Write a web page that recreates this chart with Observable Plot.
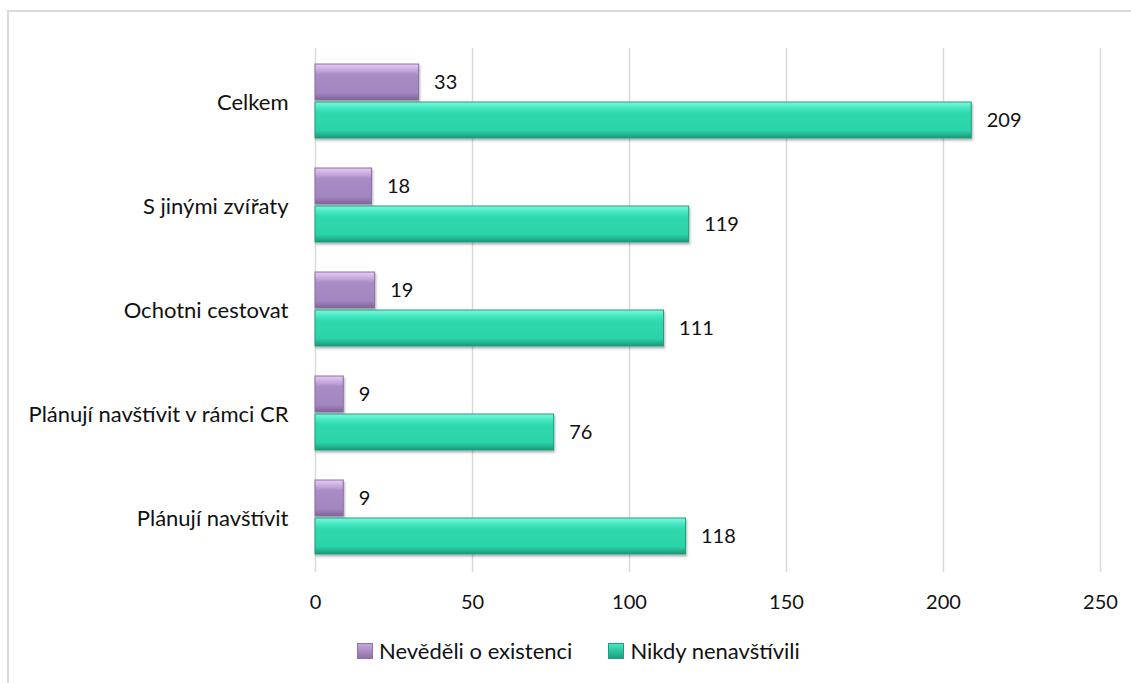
<!DOCTYPE html>
<html><head><meta charset="utf-8">
<script src="https://cdn.jsdelivr.net/npm/d3@7"></script>
<script src="https://cdn.jsdelivr.net/npm/@observablehq/plot@0.6"></script>
<style>
body{margin:0;background:#fff;font-family:Lato,"Noto Sans",sans-serif;}
#frame{position:absolute;left:7px;top:10px;width:1300px;height:800px;border-left:2px solid #d9d9d9;border-top:2px solid #d9d9d9;}
#chart{position:absolute;left:0;top:0;}
#legend{position:absolute;left:357px;top:637px;display:flex;gap:36px;font-size:22px;color:#111;}
#legend span.item{display:flex;align-items:center;}
#legend i{display:inline-block;width:14px;height:14px;margin-right:6px;}
</style></head>
<body>
<div id="frame"></div>
<div id="chart"></div>
<div id="legend"></div>
<script>
const categories = ["Celkem", "S jinými zvířaty", "Ochotni cestovat", "Plánují navštívit v rámci CR", "Plánují navštívit"];
const seriesNames = ["Nevěděli o existenci", "Nikdy nenavštívili"];
const nevedeli = [33, 18, 19, 9, 9];
const nikdy = [209, 119, 111, 76, 118];
const xTicks = [0, 50, 100, 150, 200, 250];

const purple = categories.map((c, i) => ({cat: c, v: nevedeli[i]}));
const teal = categories.map((c, i) => ({cat: c, v: nikdy[i]}));

const font = "Lato, 'Noto Sans', sans-serif";
const plot = Plot.plot({
  width: 1131, height: 620,
  marginLeft: 315, marginRight: 31, marginTop: 48, marginBottom: 48,
  style: {fontFamily: font, fontSize: "22px", color: "#111", background: "transparent"},
  x: {domain: [0, 250], ticks: xTicks, label: null},
  y: {domain: categories, padding: 0, label: null},
  marks: [
    Plot.gridX(xTicks, {stroke: "#d9d9d9", strokeOpacity: 1, strokeWidth: 1.5}),
    Plot.barX(purple, {x: "v", y: "cat", insetTop: 14, insetBottom: 54, fill: "url(#gPurple)", stroke: "#8a6ea3", strokeWidth: 1}),
    Plot.barX(teal, {x: "v", y: "cat", insetTop: 52, insetBottom: 16, fill: "url(#gTeal)", stroke: "#1f9f7e", strokeWidth: 1}),
    Plot.text(purple, {x: "v", y: "cat", text: d => String(d.v), dx: 15, dy: -20, textAnchor: "start", fontSize: 20, fill: "#111"}),
    Plot.text(teal, {x: "v", y: "cat", text: d => String(d.v), dx: 15, dy: 18, textAnchor: "start", fontSize: 20, fill: "#111"}),
    Plot.axisX(xTicks, {tickSize: 0, tickPadding: 22, fontSize: 20, label: null}),
    Plot.axisY({tickSize: 0, tickPadding: 27, fontSize: 22, label: null})
  ]
});

const svg = d3.select(plot);
const defs = svg.insert("defs", ":first-child");
function grad(id, stops) {
  const g = defs.append("linearGradient").attr("id", id).attr("x1", 0).attr("y1", 0).attr("x2", 0).attr("y2", 1);
  stops.forEach(([o, c]) => g.append("stop").attr("offset", o).attr("stop-color", c));
}
grad("gPurple", [[0, "#e6cdf3"], [0.18, "#c6a6dc"], [0.3, "#a98bc5"], [0.8, "#a386bf"], [1, "#7d6196"]]);
grad("gTeal", [[0, "#7cf7da"], [0.18, "#43e6c0"], [0.3, "#2fd9ae"], [0.8, "#2cd3a8"], [1, "#1b9676"]]);
const f = defs.append("filter").attr("id", "shadow").attr("x", "-5%").attr("y", "-20%").attr("width", "115%").attr("height", "160%");
f.append("feDropShadow").attr("dx", 1).attr("dy", 2).attr("stdDeviation", 1.2).attr("flood-color", "#000").attr("flood-opacity", 0.3);
svg.selectAll("g[aria-label='bar']").attr("filter", "url(#shadow)");

document.getElementById("chart").appendChild(plot);

const legend = document.getElementById("legend");
const legendColors = [["#c6a6dc", "#8f72aa"], ["#43e6c0", "#1f9f7e"]];
seriesNames.forEach((name, i) => {
  const s = document.createElement("span");
  s.className = "item";
  const m = document.createElement("i");
  m.style.background = `linear-gradient(${legendColors[i][0]}, ${legendColors[i][1]})`;
  m.style.border = `1px solid ${legendColors[i][1]}`;
  s.appendChild(m);
  s.appendChild(document.createTextNode(name));
  legend.appendChild(s);
});
</script>
</body></html>
